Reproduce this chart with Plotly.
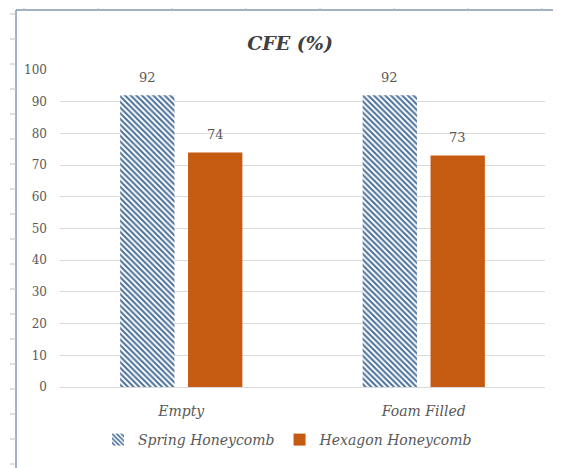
import plotly.graph_objects as go

categories = ["Empty", "Foam Filled"]
spring = [92, 92]
hexagon = [74, 73]
series_names = ["Spring Honeycomb", "Hexagon Honeycomb"]
y_ticks = [0, 10, 20, 30, 40, 50, 60, 70, 80, 90, 100]

OFF = 8  # page body margin
SW, SH = 561, 468
W, H = SW - OFF, SH - OFF
L, R, T, B = 60 - OFF, 16, 70 - OFF, 81
pw, ph = W - L - R, H - T - B

def px_x(p):
    return (p - OFF - L) / pw

def px_y(p):
    return (H - B - (p - OFF)) / ph

serif = "DejaVu Serif"
gray = "#595959"

fig = go.Figure()
fig.add_trace(go.Bar(
    x=categories, y=spring, name=series_names[0],
    marker=dict(color="white", line=dict(width=0),
                pattern=dict(shape="\\", fgcolor="#4a6f99", bgcolor="white",
                             size=4, solidity=0.5, fillmode="replace")),
))
fig.add_trace(go.Bar(
    x=categories, y=hexagon, name=series_names[1],
    marker=dict(color="#c55a11", line=dict(width=0)),
))

annotations = []
for vals, xs in ((spring, -34), (hexagon, 34)):
    for c, v in zip(categories, vals):
        annotations.append(dict(x=c, y=v, xref="x", yref="y", text=str(v),
                                showarrow=False, xshift=xs, yshift=18,
                                yanchor="middle",
                                font=dict(family=serif, size=13, color=gray)))

shapes = []
fc = "#8497b0"
shapes.append(dict(type="line", xref="paper", yref="paper",
                   x0=px_x(16), x1=px_x(561), y0=px_y(10), y1=px_y(10),
                   line=dict(color=fc, width=1.5)))
shapes.append(dict(type="line", xref="paper", yref="paper",
                   x0=px_x(16), x1=px_x(16), y0=px_y(10), y1=px_y(468),
                   line=dict(color=fc, width=1.5)))
for tx in range(24, 561, 74):
    shapes.append(dict(type="line", xref="paper", yref="paper",
                       x0=px_x(tx), x1=px_x(tx), y0=px_y(8), y1=px_y(10),
                       line=dict(color="#b8c0cc", width=1)))
for ty in range(14, 468, 25):
    shapes.append(dict(type="line", xref="paper", yref="paper",
                       x0=px_x(10), x1=px_x(16), y0=px_y(ty), y1=px_y(ty),
                       line=dict(color="#b8c0cc", width=1)))

fig.update_layout(
    width=W, height=H,
    margin=dict(l=L, r=R, t=T, b=B, autoexpand=False),
    paper_bgcolor="white", plot_bgcolor="white",
    barmode="group", bargap=0.44, bargroupgap=0.2,
    title=dict(text="<b><i>CFE (%)</i></b>", xref="container",
               x=(290 - OFF) / W, xanchor="center",
               y=1 - (43 - OFF) / H, yanchor="middle",
               font=dict(family=serif, size=19, color="#404040")),
    xaxis=dict(showline=True, linecolor="#d9d9d9", linewidth=1,
               tickfont=dict(family=serif, size=14, color=gray),
               ticks="", ticklabelstandoff=11),
    yaxis=dict(range=[0, 100], tickvals=y_ticks, showgrid=True,
               gridcolor="#d9d9d9", gridwidth=1, zeroline=False,
               tickfont=dict(family=serif, size=12, color=gray),
               ticks="", ticklabelstandoff=12),
    legend=dict(orientation="h", x=px_x(288), xanchor="center",
                y=px_y(440), yanchor="middle",
                font=dict(family=serif, size=14, color=gray),
                itemwidth=30, traceorder="normal"),
    shapes=shapes,
    annotations=annotations,
    showlegend=True,
)
fig.update_layout(legend_font_style="italic")
fig.update_xaxes(tickfont_style="italic")

fig.write_html("out.html")
